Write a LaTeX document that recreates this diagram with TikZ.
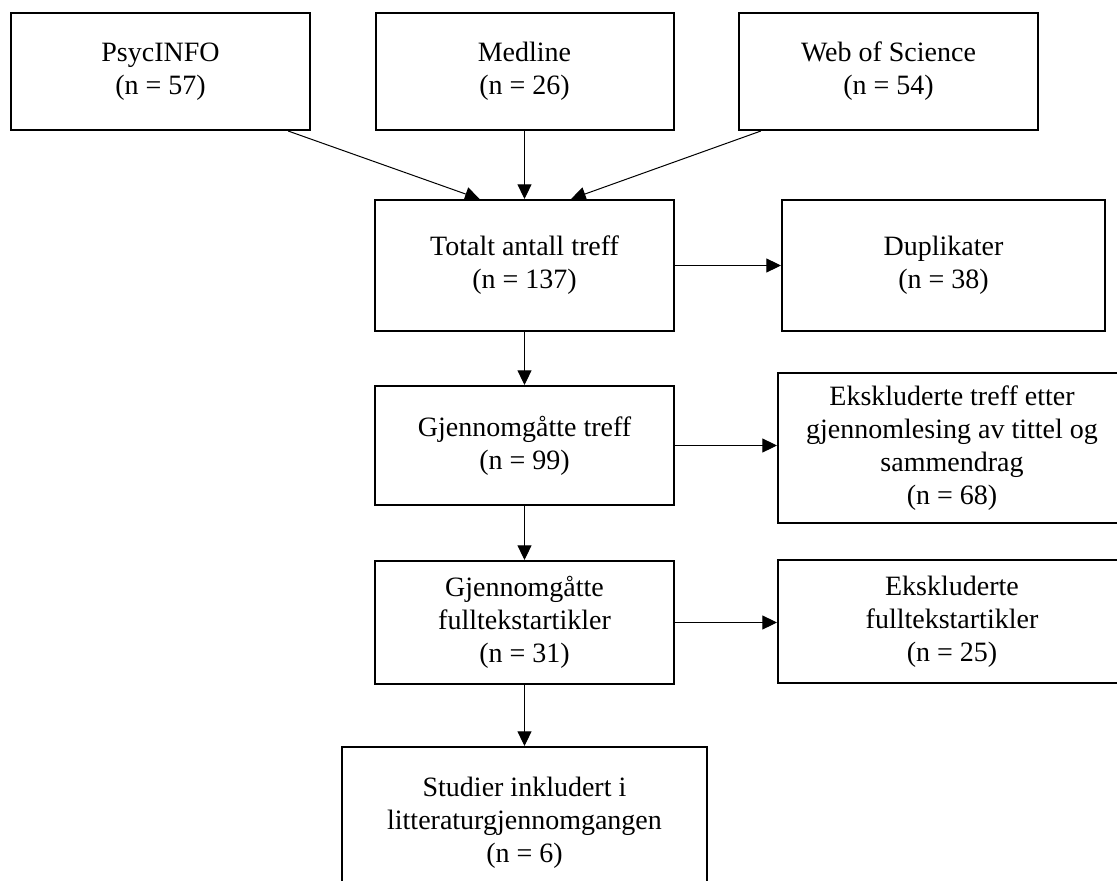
\documentclass[tikz,border=0pt]{standalone}
\usepackage{fontspec}
\setmainfont{Liberation Serif}
\usetikzlibrary{arrows.meta}

% 方框和箭头的样式
\tikzset{
  box/.style 2 args={draw, line width=1.5pt, minimum width=#1*0.75pt,
    minimum height=#2*0.75pt, inner sep=0pt, align=center,
    font=\fontsize{21pt}{24.75pt}\selectfont},
  pil/.style={-{Triangle[length=11pt,width=10.5pt]}, line width=0.75pt},
}

\begin{document}
\begin{tikzpicture}[x=0.75pt, y=-0.75pt]
    % 画布: 1117 x 881 像素, 1 像素 = 0.75pt
    % 右边两个方框和最下面的方框超出画布, 用 clip 切掉
    \useasboundingbox (0,0) rectangle (1117,881);
    \clip (0,0) rectangle (1117,881);

    % 数据库
    \node[box={299}{117}] (psyc) at (160.5,71.5) {PsycINFO\\(n = 57)};
    \node[box={298}{117}] (medline) at (524.5,71.5) {Medline\\(n = 26)};
    \node[box={299}{117}] (wos) at (888.5,71.5) {Web of Science\\(n = 54)};

    % 中间一列
    \node[box={299}{131}] (total) at (524.5,265.5) {Totalt antall treff\\(n = 137)};
    \node[box={299}{119}] (treff) at (524.5,445.5) {Gjennomgåtte treff\\(n = 99)};
    \node[box={299}{123}] (full) at (524.5,622.5) {Gjennomgåtte\\fulltekstartikler\\(n = 31)};
    \node[box={365}{152}] (inkl) at (524.5,823) {Studier inkludert i\\litteraturgjennomgangen\\(n = 6)};

    % 右边一列
    \node[box={323}{131}] (dup) at (943.5,265.5) {Duplikater\\(n = 38)};
    \node[box={348}{150}] (eks1) at (952,448) {Ekskluderte treff etter\\gjennomlesing av tittel og\\sammendrag\\(n = 68)};
    \node[box={348}{123}] (eks2) at (952,621.5) {Ekskluderte\\fulltekstartikler\\(n = 25)};

    % 箭头
    \draw[pil] (psyc.-25) -- (total.124);
    \draw[pil] (medline) -- (total);
    \draw[pil] (wos.205) -- (total.55);
    \draw[pil] (total) -- (dup);
    \draw[pil] (total) -- (treff);
    \draw[pil] (treff.east) -- (treff.east -| eks1.west);
    \draw[pil] (treff) -- (full);
    \draw[pil] (full.east) -- (full.east -| eks2.west);
    \draw[pil] (full) -- (inkl);
\end{tikzpicture}
\end{document}
